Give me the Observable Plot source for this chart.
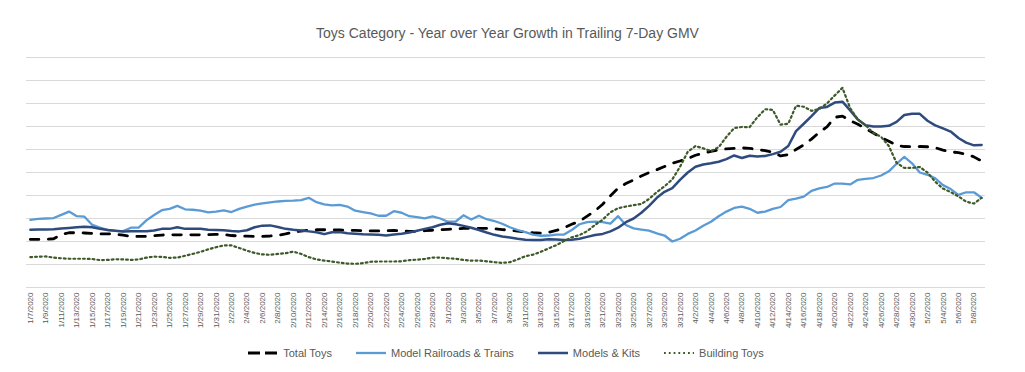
<!DOCTYPE html>
<html>
<head>
<meta charset="utf-8">
<script src="https://cdn.jsdelivr.net/npm/d3@7"></script>
<script src="https://cdn.jsdelivr.net/npm/@observablehq/plot@0.6"></script>
<style>
  html, body { margin: 0; padding: 0; background: #fff; }
  #wrap { position: relative; width: 1025px; height: 372px; font-family: "Liberation Sans", Arial, sans-serif; color: #595959; }
  #title { position: absolute; left: 0; top: 24px; width: 1015px; text-align: center; font-size: 14px; line-height: 18px; color: #595959; }
  #chart { position: absolute; left: 0; top: 45px; }
  #legend { position: absolute; left: 0; top: 345px; width: 1012px; display: flex; justify-content: center; align-items: center; font-size: 11px; line-height: 16px; color: #595959; }
  .item { display: flex; align-items: center; margin: 0 12px; }
  .item svg { margin-right: 5px; }
  #chart svg text { -webkit-font-smoothing: antialiased; }
</style>
</head>
<body>
<div id="wrap">
  <div id="title">Toys Category - Year over Year Growth in Trailing 7-Day GMV</div>
  <div id="chart"></div>
  <div id="legend"></div>
</div>
<script>
// Daily categories: 1/7/2020 .. 5/9/2020
const startDate = new Date(Date.UTC(2020, 0, 7));
const endDate = new Date(Date.UTC(2020, 4, 10));
const dates = d3.utcDay.range(startDate, endDate);
// Tick labels every second day, 1/7/2020 .. 5/8/2020
const tickDates = d3.utcDay.range(startDate, endDate, 2);

const seriesNames = ["Total Toys", "Model Railroads & Trains", "Models & Kits", "Building Toys"];

// Values in gridline units (no y labels on the original)
const totalToys = [2.09,2.09,2.09,2.12,2.3,2.38,2.38,2.37,2.35,2.33,2.33,2.32,2.28,2.22,2.22,2.22,2.25,2.28,2.29,2.29,
  2.29,2.29,2.29,2.3,2.31,2.3,2.26,2.24,2.23,2.22,2.22,2.24,2.27,2.33,2.41,2.45,2.49,2.51,2.51,2.51,
  2.5,2.49,2.48,2.47,2.46,2.46,2.47,2.48,2.46,2.44,2.44,2.47,2.49,2.51,2.53,2.55,2.57,2.58,2.57,2.57,
  2.56,2.52,2.49,2.45,2.42,2.38,2.36,2.4,2.48,2.6,2.75,2.88,3.1,3.33,3.62,3.98,4.32,4.52,4.68,4.85,
  5.0,5.12,5.26,5.4,5.5,5.6,5.75,5.84,5.92,5.98,6.03,6.05,6.07,6.05,6.0,5.95,5.88,5.72,5.78,6.0,
  6.2,6.45,6.75,6.98,7.4,7.45,7.25,7.1,6.9,6.72,6.52,6.36,6.18,6.13,6.12,6.13,6.12,6.08,5.97,5.9,
  5.86,5.8,5.68,5.5];

const modelRailroads = [2.94,2.98,3.0,3.02,3.16,3.3,3.1,3.08,2.72,2.6,2.5,2.46,2.45,2.6,2.6,2.92,3.15,3.36,3.42,3.55,
  3.4,3.38,3.34,3.27,3.3,3.35,3.28,3.42,3.52,3.6,3.66,3.7,3.74,3.77,3.78,3.8,3.9,3.71,3.61,3.57,
  3.59,3.52,3.34,3.28,3.22,3.12,3.12,3.32,3.25,3.1,3.06,3.01,3.09,3.0,2.86,2.87,3.14,2.96,3.12,2.97,
  2.89,2.77,2.62,2.5,2.41,2.3,2.25,2.26,2.3,2.3,2.5,2.75,2.84,2.86,2.84,2.78,3.1,2.72,2.57,2.52,
  2.47,2.35,2.26,2.0,2.12,2.33,2.48,2.68,2.86,3.1,3.3,3.46,3.52,3.42,3.25,3.3,3.42,3.5,3.8,3.86,
  3.95,4.2,4.31,4.37,4.52,4.52,4.48,4.68,4.72,4.76,4.87,5.05,5.38,5.68,5.4,5.0,4.9,4.75,4.45,4.28,
  4.03,4.14,4.14,3.9];

const modelsKits = [2.51,2.52,2.52,2.53,2.56,2.59,2.62,2.64,2.62,2.55,2.5,2.47,2.44,2.45,2.45,2.45,2.48,2.55,2.55,2.62,
  2.55,2.55,2.55,2.51,2.5,2.49,2.46,2.44,2.49,2.62,2.69,2.7,2.63,2.55,2.51,2.48,2.44,2.4,2.32,2.4,
  2.41,2.36,2.34,2.31,2.3,2.29,2.26,2.3,2.34,2.39,2.47,2.55,2.62,2.73,2.79,2.75,2.68,2.6,2.5,2.39,
  2.29,2.22,2.17,2.12,2.08,2.07,2.07,2.1,2.09,2.07,2.08,2.12,2.2,2.28,2.33,2.44,2.6,2.84,3.0,3.25,
  3.55,3.9,4.16,4.32,4.68,5.0,5.25,5.35,5.4,5.47,5.58,5.74,5.63,5.73,5.7,5.72,5.8,5.9,6.15,6.8,
  7.12,7.45,7.8,7.85,8.04,8.08,7.7,7.3,7.05,7.0,7.0,7.03,7.2,7.5,7.55,7.55,7.25,7.05,6.92,6.78,
  6.5,6.3,6.18,6.2];

const buildingToys = [1.32,1.34,1.35,1.3,1.27,1.25,1.25,1.25,1.24,1.19,1.2,1.23,1.22,1.2,1.22,1.3,1.34,1.33,1.29,1.3,
  1.38,1.46,1.55,1.66,1.75,1.83,1.83,1.72,1.6,1.5,1.44,1.42,1.46,1.49,1.56,1.46,1.32,1.22,1.17,1.13,
  1.08,1.04,1.03,1.06,1.12,1.13,1.13,1.13,1.14,1.19,1.21,1.24,1.3,1.3,1.27,1.25,1.2,1.17,1.17,1.14,
  1.1,1.07,1.1,1.22,1.36,1.43,1.55,1.7,1.84,2.02,2.18,2.28,2.45,2.72,2.95,3.27,3.45,3.52,3.58,3.63,
  3.85,4.15,4.4,4.7,5.25,5.9,6.15,6.05,5.93,6.1,6.55,6.93,6.98,6.97,7.4,7.75,7.72,7.08,7.12,7.9,
  7.86,7.68,7.76,8.0,8.35,8.68,7.8,7.3,7.05,6.72,6.55,6.15,5.42,5.2,5.2,5.24,5.0,4.6,4.3,4.15,
  3.96,3.73,3.65,3.9];

const yGrid = [1,2,3,4,5,6,7,8,9,10];

const styles = {
  "Total Toys": {stroke: "#000000", strokeWidth: 2.8, strokeDasharray: "8.5,9.5"},
  "Model Railroads & Trains": {stroke: "#5B9BD5", strokeWidth: 2.3},
  "Models & Kits": {stroke: "#2F4B7E", strokeWidth: 2.5},
  "Building Toys": {stroke: "#3F5A2A", strokeWidth: 2.2, strokeDasharray: "1.8,3"}
};

const valuesBySeries = [totalToys, modelRailroads, modelsKits, buildingToys];
const table = seriesNames.map((name, k) => dates.map((d, i) => ({date: d, value: valuesBySeries[k][i], series: name})));

const fmt = d => `${d.getUTCMonth() + 1}/${d.getUTCDate()}/${d.getUTCFullYear()}`;

const halfDay = 12 * 3600 * 1000;
const chart = Plot.plot({
  width: 1025,
  height: 300,
  marginTop: 12,
  marginBottom: 58,
  marginLeft: 26,
  marginRight: 40,
  style: {background: "#fff", fontFamily: "Liberation Sans, Arial, sans-serif"},
  x: {type: "utc", domain: [new Date(+startDate - halfDay), new Date(+dates[dates.length - 1] + halfDay)]},
  y: {domain: [0, 10], axis: null},
  marks: [
    Plot.ruleY(yGrid, {stroke: "#d9d9d9", strokeWidth: 1}),
    Plot.ruleY([0], {stroke: "#d9d9d9", strokeWidth: 1}),
    Plot.axisX({ticks: tickDates, tickFormat: fmt, tickRotate: -90, tickSize: 0, tickPadding: 5,
      fontSize: 8, fill: "#595959", label: null}),
    ...table.map(rows => {
      const s = styles[rows[0].series];
      return Plot.line(rows, {x: "date", y: "value", ...s, strokeLinejoin: "round"});
    })
  ]
});
document.getElementById("chart").appendChild(chart);

// Legend
const legend = document.getElementById("legend");
for (const name of seriesNames) {
  const s = styles[name];
  const item = document.createElement("div");
  item.className = "item";
  const ns = "http://www.w3.org/2000/svg";
  const svg = document.createElementNS(ns, "svg");
  svg.setAttribute("width", 30); svg.setAttribute("height", 10);
  const ln = document.createElementNS(ns, "line");
  ln.setAttribute("x1", 0); ln.setAttribute("x2", 30); ln.setAttribute("y1", 5); ln.setAttribute("y2", 5);
  ln.setAttribute("stroke", s.stroke); ln.setAttribute("stroke-width", s.strokeWidth);
  if (s.strokeDasharray) ln.setAttribute("stroke-dasharray", name === "Total Toys" ? "12,5" : s.strokeDasharray);
  svg.appendChild(ln);
  item.appendChild(svg);
  const t = document.createElement("span");
  t.textContent = name;
  item.appendChild(t);
  legend.appendChild(item);
}
</script>
</body>
</html>
